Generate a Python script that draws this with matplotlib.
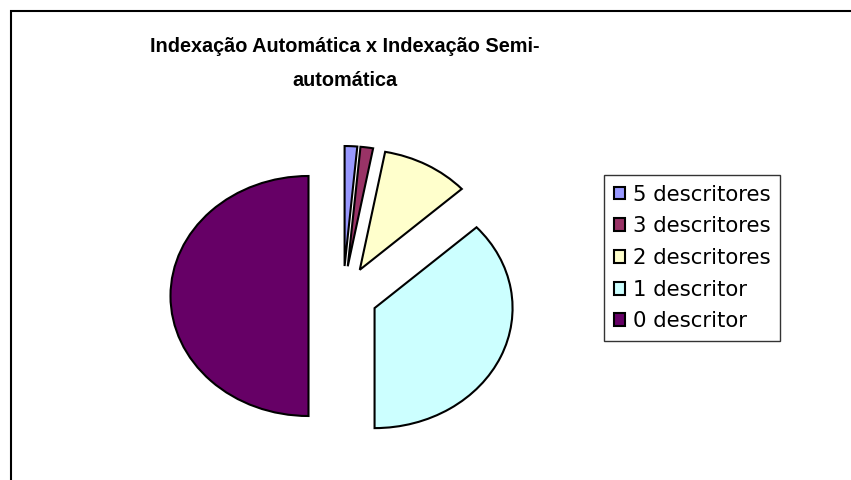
import matplotlib.pyplot as plt
from matplotlib.patches import Rectangle

# data: number of documents per descriptor count
labels = ["5 descritores", "3 descritores", "2 descritores", "1 descritor", "0 descritor"]
counts = [1, 1, 7, 25, 34]
colors = ["#9999FF", "#993366", "#FFFFCC", "#CCFFFF", "#660066"]

plt.rcParams['font.family'] = ['Liberation Sans', 'DejaVu Sans']

W, H = 851, 480
fig = plt.figure(figsize=(W / 100, H / 100), dpi=100)

# outer chart frame (cut at right/bottom like the original)
fig.patches.append(Rectangle((11 / W, -0.1), 1.2, 1 - 11 / H + 0.1, transform=fig.transFigure,
                             fill=False, edgecolor="black", linewidth=1.5))

# pie axes: 1 data unit = 138 px horizontally, 120 px vertically
cx, cy = 343, H - 296
ax = fig.add_axes([(cx - 276) / W, (cy - 180) / H, 552 / W, 360 / H])
wedges, _ = ax.pie(counts, colors=colors, startangle=90, counterclock=False,
                   explode=[0.25] * len(counts),
                   wedgeprops=dict(edgecolor="black", linewidth=1.5))
ax.set_aspect('auto')
ax.set_xlim(-2, 2)
ax.set_ylim(-1.5, 1.5)
ax.axis('off')

# title
fig.text(345 / W, 1 - 46 / H, "Indexação Automática x Indexação Semi-",
         ha="center", va="center", fontsize=14.3, fontweight="bold")
fig.text(345 / W, 1 - 80 / H, "automática",
         ha="center", va="center", fontsize=14.3, fontweight="bold")

# legend
leg = fig.legend(wedges, labels, loc="upper left", bbox_to_anchor=(604 / W, 1 - 175 / H),
                 prop=dict(family='DejaVu Sans', size=15.3), frameon=True, fancybox=False,
                 edgecolor="black", handlelength=0.55, handleheight=0.55, handletextpad=0.35,
                 labelspacing=0.55, borderpad=0.45, borderaxespad=0)
leg.get_frame().set_linewidth(1.0)

fig.savefig("out.png", dpi=100)
